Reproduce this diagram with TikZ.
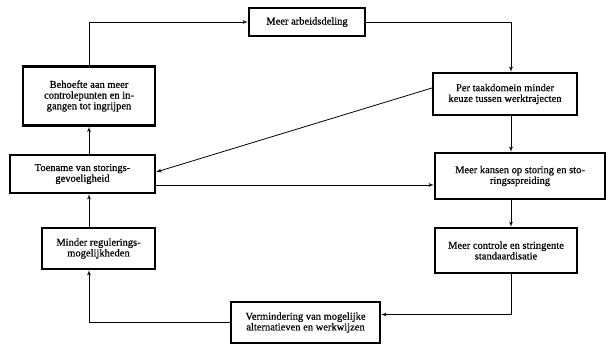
\documentclass[tikz,border=0pt]{standalone}
\usepackage{fontspec}
\setmainfont{Liberation Serif}
\newfontfamily\boxfont[FakeBold=0.6]{Liberation Serif}
\usetikzlibrary{arrows}

\begin{document}
\begin{tikzpicture}[x=1pt,y=-1pt,>=latex',
  box/.style={draw,line width=2.2pt,align=center,inner sep=0pt,
    font=\boxfont\fontsize{10.5}{10.7}\selectfont},
  line/.style={line width=0.8pt}]
\useasboundingbox (0,0) rectangle (611,346);
\node[box,minimum width=116pt,minimum height=28pt] (arb) at (307,22) {Meer arbeidsdeling};
\node[box,minimum width=132pt,minimum height=59pt] (beh) at (89,96) {Behoefte aan meer\\controlepunten en in-\\gangen tot ingrijpen};
\node[box,minimum width=145pt,minimum height=38pt] (toe) at (82.5,174) {Toename van storings-\\gevoeligheid};
\node[box,minimum width=113pt,minimum height=41pt] (min) at (98.5,248.5) {Minder regulerings-\\mogelijkheden};
\node[box,minimum width=149pt,minimum height=41pt] (ver) at (305.5,322.5) {Vermindering van mogelijke\\alternatieven en werkwijzen};
\node[box,minimum width=144pt,minimum height=42pt] (per) at (505,94) {Per taakdomein minder\\keuze tussen werktrajecten};
\node[box,minimum width=170pt,minimum height=46pt] (kan) at (520,176) {Meer kansen op storing en sto-\\ringsspreiding};
\node[box,minimum width=142pt,minimum height=45pt] (con) at (506,250.5) {Meer controle en stringente\\standaardisatie};

\coordinate (lft) at (89,0);
\coordinate (rgt) at (511,0);
\coordinate (mid) at (0,185);

\draw[line,->] (beh.north -| lft) |- (arb.west);
\draw[line,->] (arb.east) -| (per.north -| rgt);
\draw[line,->] (per.south -| rgt) -- (kan.north -| rgt);
\draw[line,->] (kan.south -| rgt) -- (con.north -| rgt);
\draw[line,->] (con.south -| rgt) |- ([yshift=8pt]ver.east);
\draw[line,->] (ver.west) -| (min.south -| lft);
\draw[line,->] (min.north -| lft) -- (toe.south -| lft);
\draw[line,->] (toe.north -| lft) -- (beh.south -| lft);
\draw[line,->] ([yshift=6pt]per.west) -- ([yshift=2pt]toe.east);
\draw[line,->] (toe.east |- mid) -- (kan.west |- mid);
\end{tikzpicture}
\end{document}
